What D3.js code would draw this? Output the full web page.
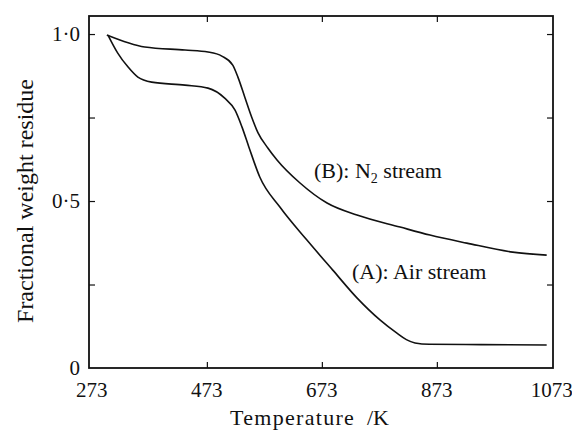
<!DOCTYPE html>
<html>
<head>
  <script src="https://d3js.org/d3.v7.min.js"></script>
  <style>
    body { margin: 0; background: #fff; }
    svg text { font-family: "Liberation Serif", "DejaVu Serif", serif; fill: #111; }
    .axis path { display: none; }
    .axis line { stroke: #111; stroke-width: 1.2; }
    .curve { fill: none; stroke: #111; stroke-width: 1.6; }
  </style>
</head>
<body>
  <svg class="chart" width="572" height="432"></svg>
  <script>
    // temperature (K) / fractional residue
    var airTemp = [301, 318, 336, 353, 377, 435, 475, 504, 522, 534, 546, 565, 600, 647, 692, 734, 774, 803, 820, 835, 860, 950, 1064];
    var airResidue = [0.997, 0.943, 0.901, 0.871, 0.856, 0.847, 0.838, 0.808, 0.772, 0.722, 0.662, 0.572, 0.482, 0.383, 0.293, 0.210, 0.144, 0.105, 0.085, 0.075, 0.071, 0.070, 0.069];
    var n2Temp = [299, 365, 435, 475, 499, 518, 527, 539, 551, 562, 579, 595, 635, 682, 734, 809, 861, 925, 1005, 1064];
    var n2Residue = [0.997, 0.961, 0.952, 0.946, 0.934, 0.907, 0.871, 0.811, 0.751, 0.704, 0.659, 0.623, 0.554, 0.494, 0.458, 0.422, 0.398, 0.374, 0.347, 0.338];

    var xTicks = [273, 473, 673, 873, 1073];
    var yTicks = [0, 0.5, 1];
    var yMinor = [0.25, 0.75];
    var yTickLabels = ['0', '0·5', '1·0'];

    var plotL = 89, plotR = 553, plotT = 16, plotB = 368;

    var x = d3.scaleLinear().domain([268, 1075]).range([plotL, plotR]);
    var y = d3.scaleLinear().domain([0, 1.054]).range([plotB, plotT]);

    var svg = d3.select('.chart');

    // inward ticks on all four sides
    svg.append('g').attr('class', 'axis')
      .attr('transform', 'translate(0,' + plotB + ')')
      .call(d3.axisTop(x).tickValues(xTicks.slice(1, 4)).tickSize(6).tickFormat(''));
    svg.append('g').attr('class', 'axis')
      .attr('transform', 'translate(0,' + plotT + ')')
      .call(d3.axisBottom(x).tickValues(xTicks.slice(1, 4)).tickSize(6).tickFormat(''));
    svg.append('g').attr('class', 'axis')
      .attr('transform', 'translate(' + plotL + ',0)')
      .call(d3.axisRight(y).tickValues(yTicks.slice(1).concat(yMinor)).tickSize(6).tickFormat(''));
    svg.append('g').attr('class', 'axis')
      .attr('transform', 'translate(' + plotR + ',0)')
      .call(d3.axisLeft(y).tickValues(yTicks.slice(1).concat(yMinor)).tickSize(6).tickFormat(''));

    svg.append('rect')
      .attr('x', plotL).attr('y', plotT)
      .attr('width', plotR - plotL).attr('height', plotB - plotT)
      .attr('fill', 'none').attr('stroke', '#111').attr('stroke-width', 1.8);

    // tick labels
    svg.selectAll('.xlab').data(xTicks).enter().append('text')
      .attr('x', function (d) { return x(d); })
      .attr('y', 397)
      .attr('text-anchor', 'middle')
      .style('font-size', '21px')
      .text(function (d) { return d; });

    svg.selectAll('.ylab').data(yTicks).enter().append('text')
      .attr('x', 80)
      .attr('y', function (d) { return y(d) + 7; })
      .attr('text-anchor', 'end')
      .style('font-size', '21px')
      .text(function (d, i) { return yTickLabels[i]; });

    svg.append('text')
      .attr('x', 230).attr('y', 425)
      .style('font-size', '22px')
      .style('letter-spacing', '1.3px')
      .text('Temperature');
    svg.append('text')
      .attr('x', 367).attr('y', 425)
      .style('font-size', '22px')
      .text('/K');

    svg.append('text')
      .attr('transform', 'translate(33,201) rotate(-90)')
      .attr('text-anchor', 'middle')
      .style('font-size', '24px')
      .text('Fractional weight residue');

    var line = d3.line()
      .x(function (d) { return x(d[0]); })
      .y(function (d) { return y(d[1]); })
      .curve(d3.curveMonotoneX);

    svg.append('path').attr('class', 'curve')
      .attr('d', line(d3.zip(airTemp, airResidue)));
    svg.append('path').attr('class', 'curve')
      .attr('d', line(d3.zip(n2Temp, n2Residue)));

    var bLab = svg.append('text').attr('x', 314).attr('y', 178).style('font-size', '22px');
    bLab.append('tspan').text('(B): N');
    bLab.append('tspan').attr('dy', 5).style('font-size', '14px').text('2');
    bLab.append('tspan').attr('dy', -5).text(' stream');

    svg.append('text').attr('x', 352).attr('y', 279).style('font-size', '22px')
      .text('(A): Air stream');
  </script>
</body>
</html>
